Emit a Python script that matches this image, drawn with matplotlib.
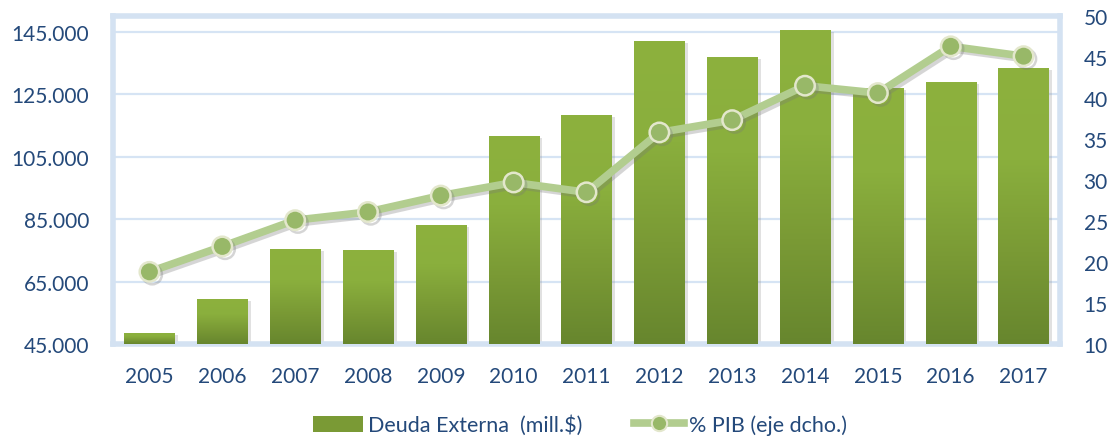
import numpy as np
import matplotlib
matplotlib.use("Agg")
import matplotlib.pyplot as plt
import matplotlib.patheffects as pe
from matplotlib.colors import LinearSegmentedColormap
from matplotlib.lines import Line2D
from matplotlib.patches import Patch

years = ["2005", "2006", "2007", "2008", "2009", "2010", "2011",
         "2012", "2013", "2014", "2015", "2016", "2017"]
deuda = [48600, 59300, 75300, 75000, 83000, 111500, 118200,
         142000, 136800, 145500, 127100, 128800, 133300]
pib = [18.8, 21.9, 25.1, 26.1, 28.1, 29.7, 28.5,
       35.8, 37.3, 41.5, 40.6, 46.3, 45.1]
left_ticks = [45000, 65000, 85000, 105000, 125000, 145000]
left_labels = ["45.000", "65.000", "85.000", "105.000", "125.000", "145.000"]
right_ticks = [10, 15, 20, 25, 30, 35, 40, 45, 50]

plt.rcParams['font.family'] = ['Lato', 'DejaVu Sans']
txt = '#24497A'
frame = '#D4E2F2'
grid = '#D6E4F4'

fig = plt.figure(figsize=(11.17, 4.39), dpi=100)
W, H = 1117, 439
ax = fig.add_axes([113 / W, 1 - 345 / H, (1060 - 113) / W, (345 - 17) / H])
x = np.arange(len(years))

ax.set_xlim(-0.5, len(years) - 0.5)
ax.set_ylim(45000, 150000)
ax.set_axisbelow(True)
ax.yaxis.grid(True, color=grid, lw=1.6)
ax.set_yticks(left_ticks)
ax.set_yticklabels(left_labels)
ax.set_xticks(x)
ax.set_xticklabels(years)
ax.tick_params(axis='both', length=0, labelsize=15, colors=txt)
ax.tick_params(axis='y', pad=17)
ax.tick_params(axis='x', pad=16)
for s in ax.spines.values():
    s.set_color(frame)
    s.set_linewidth(4)

bars = ax.bar(x, np.array(deuda) - 45000, bottom=45000, width=0.69,
              color='#7E9F37', zorder=2,
              path_effects=[pe.SimplePatchShadow(offset=(2.5, -1.5), shadow_rgbFace='#888888', alpha=0.25),
                            pe.Normal()])
cmap = LinearSegmentedColormap.from_list('g', ['#67862E', '#7A9A35', '#8AAF3D', '#8DB13E'])
grad = np.linspace(0, 1, 256).reshape(-1, 1)
for b in bars:
    x0, y0 = b.get_x(), b.get_y()
    im = ax.imshow(grad, extent=(x0, x0 + b.get_width(), y0, y0 + b.get_height()),
                   origin='lower', cmap=cmap, aspect='auto', zorder=3,
                   interpolation='bilinear')
    im.set_clip_path(b)
ax.set_xlim(-0.5, len(years) - 0.5)
ax.set_ylim(45000, 150000)

ax2 = ax.twinx()
ax2.set_ylim(10, 50)
ax2.set_yticks(right_ticks)
ax2.tick_params(axis='y', length=0, labelsize=15, colors=txt, pad=17)
for s in ax2.spines.values():
    s.set_visible(False)
ax2.plot(x, pib, color='#B2CD8F', lw=5.5, marker='o', markersize=14,
         markerfacecolor='#98B868', markeredgecolor='#E3E7CC', markeredgewidth=1.8,
         solid_capstyle='round', zorder=5,
         path_effects=[pe.SimpleLineShadow(offset=(2, -2), shadow_color='#777777', alpha=0.3),
                       pe.Normal()])

h1 = Patch(facecolor='#7A9A35', edgecolor='none')
h2 = Line2D([0], [0], color='#B2CD8F', lw=5.5, marker='o', markersize=11,
            markerfacecolor='#98B868', markeredgecolor='#E3E7CC', markeredgewidth=1.5)
leg = fig.legend([h1, h2], ['Deuda Externa  (mill.$)', '% PIB (eje dcho.)'],
                 loc='center', bbox_to_anchor=(580 / W, 1 - 426 / H), ncol=2,
                 frameon=False, fontsize=15.5, handlelength=2.3, handleheight=0.8,
                 handletextpad=0.25, columnspacing=2.4)
for t in leg.get_texts():
    t.set_color(txt)

fig.savefig('out.png', dpi=100)
